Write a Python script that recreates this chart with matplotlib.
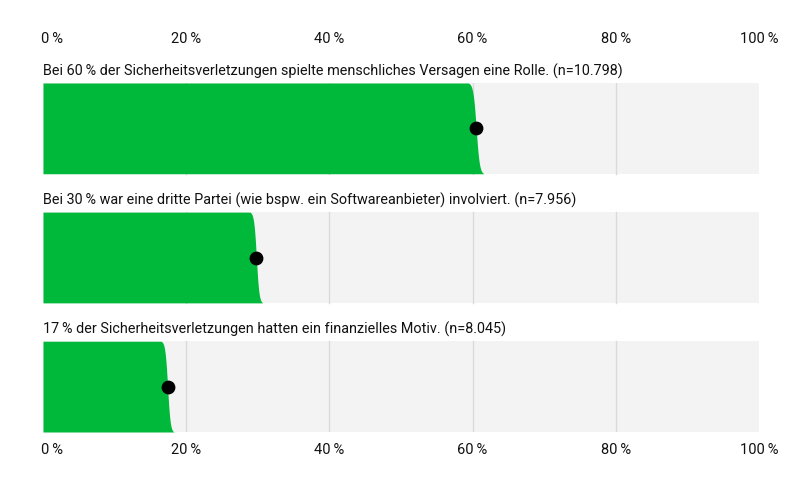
import numpy as np
import matplotlib
matplotlib.use("Agg")
import matplotlib.pyplot as plt
from matplotlib.transforms import blended_transform_factory

# ---- data ----
titles = [
    "Bei 60\u2009% der Sicherheitsverletzungen spielte menschliches Versagen eine Rolle. (n=10.798)",
    "Bei 30\u2009% war eine dritte Partei (wie bspw. ein Softwareanbieter) involviert. (n=7.956)",
    "17\u2009% der Sicherheitsverletzungen hatten ein finanzielles Motiv. (n=8.045)",
]
values = [60.5, 29.8, 17.4]
spread = [1.1, 0.9, 0.9]          # half-width of the soft right edge (percentage points)
tick_values = [0, 20, 40, 60, 80, 100]
tick_labels = ["0\u2009%", "20\u2009%", "40\u2009%", "60\u2009%", "80\u2009%", "100\u2009%"]

GREEN = "#00b83a"
BG = "#f3f3f3"
GRID = "#dadada"

plt.rcParams['font.family'] = ['Roboto', 'DejaVu Sans']

fig = plt.figure(figsize=(8, 4.8), dpi=100)
# axes spanning x 43..759 px, y 83..432 px
ax = fig.add_axes([43/800, (480-432)/480, (759-43)/800, (432-83)/480])
ax.set_xlim(0, 100)
step = 129.5 / 91.0
band_h = 1.0
ax.set_ylim(2*step + band_h, 0)
ax.axis('off')

t = np.linspace(0, 1, 200)
for i, (v, s, title) in enumerate(zip(values, spread, titles)):
    top = i * step
    bot = top + band_h
    ax.add_patch(plt.Rectangle((0, top), 100, band_h, color=BG, lw=0, zorder=0))
    for g in tick_values[1:-1]:
        ax.plot([g, g], [top, bot], color=GRID, lw=1, zorder=1)
    y = top + t * band_h
    off = s * np.arctanh(0.985 * (2*t - 1)) / np.arctanh(0.985)
    ax.fill_betweenx(y, 0, v + off, color=GREEN, lw=0, zorder=2)
    ax.scatter([v], [top + band_h/2], s=80, color="black", zorder=3)
    ax.text(0, top - 0.045, title, fontsize=10.4, ha='left', va='bottom', color="#111111")

trans = blended_transform_factory(ax.transData, fig.transFigure)
for tv, tl in zip(tick_values, tick_labels):
    ha = 'left' if tv == 0 else 'center'
    xx = tv - 0.3 if tv == 0 else tv
    ax.text(xx, 1 - 39/480, tl, transform=trans, fontsize=10.5, ha=ha, va='center', color="#111111")
    ax.text(xx, 1 - 450/480, tl, transform=trans, fontsize=10.5, ha=ha, va='center', color="#111111")

fig.savefig("out.png", dpi=100, facecolor="white")
